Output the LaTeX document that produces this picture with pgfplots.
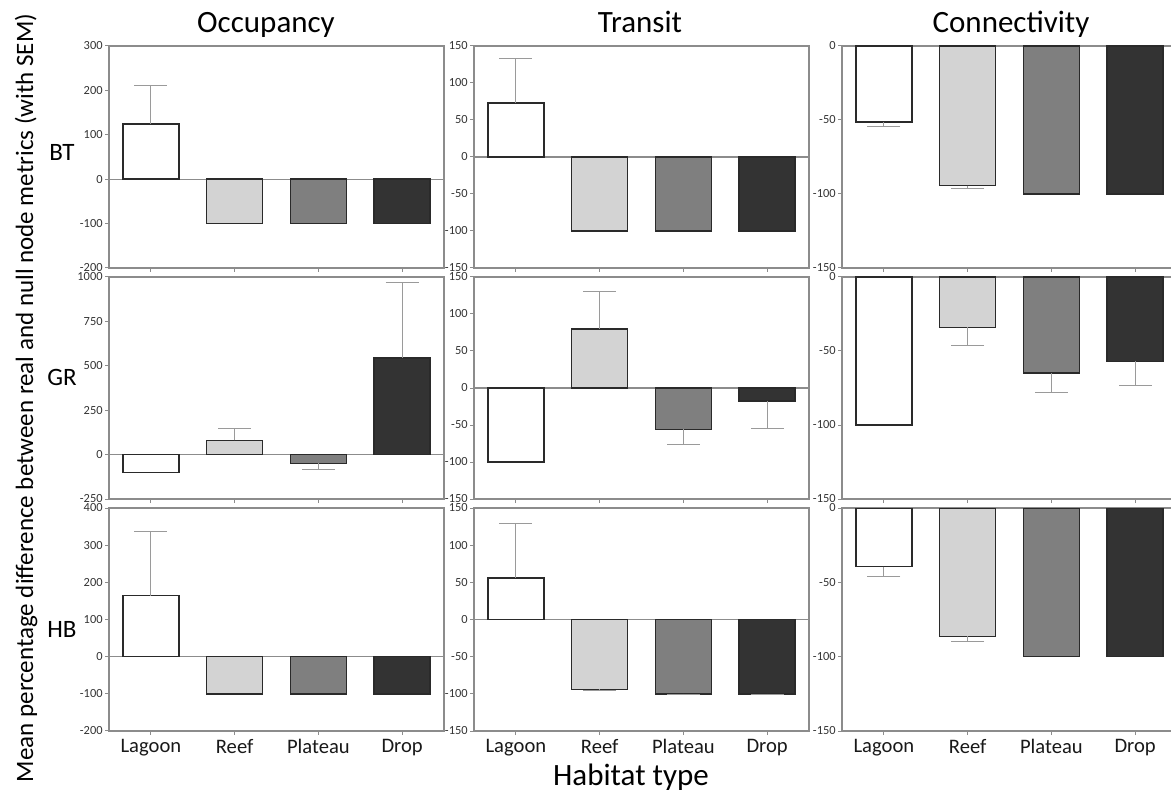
\documentclass[border=0pt]{standalone}
\usepackage{fontspec}
\setmainfont{Carlito}
\usepackage{pgfplots}
\pgfplotsset{compat=1.18}

\definecolor{cLag}{HTML}{FFFFFF}
\definecolor{cReef}{HTML}{D3D3D3}
\definecolor{cPlat}{HTML}{7F7F7F}
\definecolor{cDrop}{HTML}{333333}
\definecolor{axgray}{HTML}{8C8C8C}
\definecolor{ebcol}{HTML}{9A9A9A}
\definecolor{edge}{HTML}{2A2A2A}

\pgfplotsset{
 panel/.style={
  scale only axis, width=167.5pt, height=111pt, anchor=north west,
  xmin=-0.5, xmax=3.5, xtick={0,1,2,3}, xticklabels={},
  tick pos=left, tick align=outside, major tick length=2pt,
  axis line style={axgray, line width=0.6pt},
  every tick/.style={axgray, line width=0.5pt},
  yticklabel style={font=\fontsize{6.2}{7}\selectfont, text=black!80, inner sep=1pt},
  xticklabel style={font=\fontsize{10.3}{12}\selectfont, text=black!90, inner sep=2pt},
  /pgf/number format/assume math mode=true,
  /pgf/number format/set thousands separator={},
  ybar, bar width=28pt,
  extra y ticks={0}, extra y tick labels={},
  extra y tick style={grid=major, major grid style={axgray, line width=0.6pt}, major tick length=0pt},
 },
 bottom/.style={xticklabels={Lagoon,Reef,Plateau,Drop}},
 bL/.style={fill=cLag, draw=edge, line width=0.75pt, bar shift=0pt},
 bR/.style={fill=cReef, draw=edge, line width=0.75pt, bar shift=0pt},
 bP/.style={fill=cPlat, draw=edge, line width=0.75pt, bar shift=0pt},
 bD/.style={fill=cDrop, draw=edge, line width=0.75pt, bar shift=0pt},
 ebp/.style={error bars/.cd, y dir=plus, y explicit, error bar style={ebcol, line width=0.5pt}, error mark options={ebcol, line width=0.5pt, mark size=8.25pt, rotate=90}},
 ebm/.style={error bars/.cd, y dir=minus, y explicit, error bar style={ebcol, line width=0.5pt}, error mark options={ebcol, line width=0.5pt, mark size=8.25pt, rotate=90}},
}

\begin{document}
\begin{tikzpicture}
\useasboundingbox (0,0) rectangle (585.5pt,-398pt);

% ---------------- Row 1 : BT ----------------
\begin{axis}[panel, at={(54.5pt,-23pt)}, ymin=-200, ymax=300, ytick={-200,-100,0,100,200,300}]
\addplot[bL, ebp] coordinates {(0,124) +- (0,87)};
\addplot[bR] coordinates {(1,-100)};
\addplot[bP] coordinates {(2,-100)};
\addplot[bD] coordinates {(3,-100)};
\end{axis}
\begin{axis}[panel, at={(237pt,-23pt)}, ymin=-150, ymax=150, ytick={-150,-100,-50,0,50,100,150}]
\addplot[bL, ebp] coordinates {(0,73) +- (0,60)};
\addplot[bR] coordinates {(1,-100)};
\addplot[bP] coordinates {(2,-100)};
\addplot[bD] coordinates {(3,-100)};
\end{axis}
\begin{axis}[panel, at={(421pt,-23pt)}, ymin=-150, ymax=0, ytick={-150,-100,-50,0}]
\addplot[bL, ebm] coordinates {(0,-51.5) +- (0,2.7)};
\addplot[bR, ebm] coordinates {(1,-94.3) +- (0,2)};
\addplot[bP] coordinates {(2,-100)};
\addplot[bD] coordinates {(3,-100)};
\end{axis}

% ---------------- Row 2 : GR ----------------
\begin{axis}[panel, at={(54.5pt,-138.5pt)}, ymin=-250, ymax=1000, ytick={-250,0,250,500,750,1000}]
\addplot[bL] coordinates {(0,-100)};
\addplot[bR, ebp] coordinates {(1,80) +- (0,68)};
\addplot[bP, ebm] coordinates {(2,-50) +- (0,34)};
\addplot[bD, ebp] coordinates {(3,543) +- (0,424)};
\end{axis}
\begin{axis}[panel, at={(237pt,-138.5pt)}, ymin=-150, ymax=150, ytick={-150,-100,-50,0,50,100,150}]
\addplot[bL] coordinates {(0,-100)};
\addplot[bR, ebp] coordinates {(1,80) +- (0,50)};
\addplot[bP, ebm] coordinates {(2,-56) +- (0,21)};
\addplot[bD, ebm] coordinates {(3,-17.5) +- (0,37)};
\end{axis}
\begin{axis}[panel, at={(421pt,-138.5pt)}, ymin=-150, ymax=0, ytick={-150,-100,-50,0}]
\addplot[bL] coordinates {(0,-100)};
\addplot[bR, ebm] coordinates {(1,-34) +- (0,12)};
\addplot[bP, ebm] coordinates {(2,-65) +- (0,13)};
\addplot[bD, ebm] coordinates {(3,-57) +- (0,16)};
\end{axis}

% ---------------- Row 3 : HB ----------------
\begin{axis}[panel, bottom, at={(54.5pt,-254pt)}, height=111.5pt, ymin=-200, ymax=400, ytick={-200,-100,0,100,200,300,400}]
\addplot[bL, ebp] coordinates {(0,164) +- (0,172)};
\addplot[bR] coordinates {(1,-100)};
\addplot[bP] coordinates {(2,-100)};
\addplot[bD] coordinates {(3,-100)};
\end{axis}
\begin{axis}[panel, bottom, at={(237pt,-254pt)}, height=111.5pt, ymin=-150, ymax=150, ytick={-150,-100,-50,0,50,100,150}]
\addplot[bL, ebp] coordinates {(0,56) +- (0,73.5)};
\addplot[bR, ebm] coordinates {(1,-94) +- (0,2)};
\addplot[bP, ebm] coordinates {(2,-100) +- (0,1)};
\addplot[bD, ebm] coordinates {(3,-100) +- (0,1)};
\end{axis}
\begin{axis}[panel, bottom, at={(421pt,-254pt)}, height=111.5pt, ymin=-150, ymax=0, ytick={-150,-100,-50,0}]
\addplot[bL, ebm] coordinates {(0,-39.4) +- (0,7)};
\addplot[bR, ebm] coordinates {(1,-86.4) +- (0,3.6)};
\addplot[bP] coordinates {(2,-100)};
\addplot[bD] coordinates {(3,-100)};
\end{axis}

% ---------------- Labels ----------------
\node[anchor=base, font=\fontsize{15.5}{18}\selectfont] at (133pt,-16.5pt) {Occupancy};
\node[anchor=base, font=\fontsize{15.5}{18}\selectfont] at (320pt,-16.5pt) {Transit};
\node[anchor=base, font=\fontsize{15.5}{18}\selectfont] at (505.5pt,-16.5pt) {Connectivity};
\node[font=\fontsize{12.5}{15}\selectfont] at (31pt,-76pt) {BT};
\node[font=\fontsize{12.5}{15}\selectfont] at (31pt,-188.5pt) {GR};
\node[font=\fontsize{12.5}{15}\selectfont] at (31pt,-314.5pt) {HB};
\node[font=\fontsize{15.5}{18}\selectfont] at (315.5pt,-388.5pt) {Habitat type};
\node[rotate=90, anchor=base, font=\fontsize{12.5}{15}\selectfont] at (16.5pt,-199pt) {Mean percentage difference between real and null node metrics (with SEM)};
\end{tikzpicture}
\end{document}
